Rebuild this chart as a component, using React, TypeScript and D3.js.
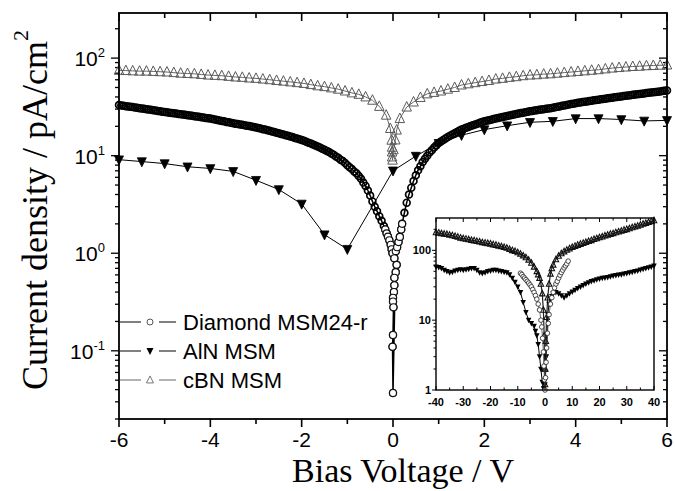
import React from 'react';
import * as d3 from 'd3';

// ---------------- data ----------------
// Main plot: Diamond MSM24-r, regular grid -6.00 .. -0.20 V (step 0.05 V)
const diamondNegJ = [
  33.0, 32.7, 32.5, 32.2, 32.0, 31.7, 31.5, 31.2, 31.0, 30.7,
  30.5, 30.2, 30.0, 29.7, 29.5, 29.2, 29.0, 28.7, 28.5, 28.2,
  28.0, 27.8, 27.6, 27.4, 27.2, 27.0, 26.8, 26.6, 26.4, 26.2,
  26.0, 25.8, 25.6, 25.4, 25.2, 25.0, 24.8, 24.6, 24.4, 24.2,
  24.0, 23.7, 23.5, 23.2, 23.0, 22.7, 22.5, 22.2, 22.0, 21.7,
  21.5, 21.3, 21.1, 20.9, 20.7, 20.5, 20.3, 20.1, 19.9, 19.7,
  19.5, 19.2, 19.0, 18.7, 18.5, 18.2, 18.0, 17.7, 17.5, 17.2,
  17.0, 16.7, 16.5, 16.2, 16.0, 15.7, 15.5, 15.2, 15.0, 14.7,
  14.5, 14.2, 13.9, 13.6, 13.3, 13.0, 12.7, 12.4, 12.1, 11.8,
  11.5, 11.2, 10.9, 10.5, 10.2, 9.8, 9.5, 9.1, 8.8, 8.4,
  8.0, 7.6, 7.3, 6.9, 6.6, 6.2, 5.8, 5.3, 4.9, 4.4,
  3.9, 3.4, 3.0, 2.7, 2.4, 2.15, 1.9,
];
// Diamond near 0 V (fine detail incl. the vertical column)
const diamondZeroV = [-0.17, -0.14, -0.11, -0.08, -0.05, -0.03, -0.01, 0.03, 0.08, 0.06, 0.03, 0.03, 0.02, 0.0, 0.0, 0.01, 0.0, -0.01, 0.0, 0.06, 0.09, 0.12, 0.15, 0.18, 0.2];
const diamondZeroJ = [1.75, 1.6, 1.48, 1.36, 1.22, 1.1, 1.0, 0.89, 0.76, 0.64, 0.56, 0.47, 0.4, 0.35, 0.32, 0.28, 0.145, 0.11, 0.037, 1.05, 1.15, 1.3, 1.47, 1.75, 2.0];
// Diamond, regular grid 0.25 .. 6.00 V (step 0.05 V)
const diamondPosJ = [
  2.6, 3.3, 4.0, 4.7, 5.5, 6.3, 7.1, 7.8, 8.6, 9.3,
  10.0, 10.8, 11.4, 12.1, 12.8, 13.5, 14.0, 14.5, 15.0, 15.5,
  16.0, 16.5, 17.0, 17.5, 18.0, 18.5, 18.9, 19.3, 19.7, 20.1,
  20.5, 20.9, 21.3, 21.7, 22.1, 22.5, 22.8, 23.1, 23.4, 23.7,
  24.0, 24.3, 24.6, 24.9, 25.2, 25.5, 25.8, 26.1, 26.4, 26.7,
  27.0, 27.3, 27.6, 27.9, 28.2, 28.5, 28.7, 29.0, 29.2, 29.5,
  29.7, 30.0, 30.2, 30.5, 30.7, 31.0, 31.3, 31.7, 32.0, 32.4,
  32.7, 33.1, 33.4, 33.8, 34.1, 34.5, 34.8, 35.1, 35.4, 35.7,
  36.0, 36.3, 36.6, 36.9, 37.2, 37.5, 37.8, 38.1, 38.4, 38.7,
  39.0, 39.3, 39.6, 39.9, 40.2, 40.5, 40.8, 41.1, 41.4, 41.7,
  42.0, 42.3, 42.6, 42.9, 43.2, 43.5, 43.8, 44.1, 44.4, 44.7,
  45.0, 45.3, 45.6, 45.9, 46.2, 46.5,
];

// AlN MSM
const alnV = [-6, -5.5, -5, -4.5, -4, -3.5, -3, -2.5, -2, -1.5, -1, 0, 0.5, 1, 1.5, 2, 2.5, 3, 3.5, 4, 4.5, 5, 5.5, 6];
const alnJ = [9.1, 8.7, 8.3, 7.7, 7.4, 6.9, 5.6, 4.5, 3.2, 1.55, 1.1, 7.0, 9.9, 13.4, 16.2, 18.5, 20.3, 22, 22.5, 24, 24, 23.5, 22.7, 23];

// cBN MSM, grid -6.00 .. -0.15 V (step 0.15 V)
const cbnNegJ = [75, 74.5, 74, 73.5, 73.5, 73, 72.5, 72, 71, 70, 69.5, 69, 68, 67, 66.5, 66, 65, 64, 63.5, 62.5, 62, 61, 60, 59, 58, 57, 56, 55, 53.5, 52, 51, 49.5, 48, 46, 44, 42.5, 40, 37, 32, 26];
const cbnZeroV = [-0.06, -0.03, -0.02, -0.02, -0.02, -0.01, 0.01, 0.05, 0.08];
const cbnZeroJ = [19, 14.4, 12.2, 10.9, 9.7, 9.0, 11.5, 14.5, 18.3];
// cBN, grid 0.15 .. 6.00 V (step 0.15 V)
const cbnPosJ = [24, 31.5, 35.5, 39.5, 43, 44.5, 46, 48, 50, 53, 54.5, 56, 57.5, 59, 61, 62, 63.5, 64.5, 66, 67, 67.5, 68.5, 69, 70, 71, 72, 73, 74, 75, 76, 77.5, 79, 80, 81, 82, 82.5, 83.5, 84, 84.5, 85];

// Inset (-40 .. 40 V)
const insetCbnNegJ = [180, 178, 175, 172, 170, 166, 163, 159, 155, 151, 148, 146, 143, 140, 138, 135, 133, 130, 128, 126, 124, 121, 119, 116, 114, 111, 108, 104, 100, 97, 93, 89, 84, 79, 73, 66, 58, 50]; // -40..-3
const insetCbnMidV = [-2.5, -2, -1.5, -1, -0.6, -0.3, -0.1, 0, 0.1, 0.3, 0.6, 1, 1.5, 2, 2.5];
const insetCbnMidJ = [45, 40, 33, 24, 14, 6, 2, 1.2, 2, 5, 11, 21, 33, 46, 55];
const insetCbnPosJ = [62, 74, 83, 90, 96, 101, 106, 111, 115, 119, 123, 127, 131, 135, 139, 144, 148, 153, 157, 162, 166, 171, 175, 180, 185, 190, 195, 200, 206, 212, 218, 224, 231, 238, 245, 252, 260, 268]; // 3..40

const insetDiaV = [-9, -8.5, -8, -7.5, -7, -6.5, -6, -5.5, -5, -4.5, -4, -3.5, -3, -2.5, -2, -1.5, -1.2, -0.9, -0.6, -0.4, -0.2, 0, 0.2, 0.4, 0.6, 0.9, 1.2, 1.5, 2, 2.5, 3, 3.5, 4, 4.5, 5, 5.5, 6, 6.5, 7, 7.5, 8, 8.5];
const insetDiaJ = [47, 45, 42, 40, 38, 36, 34, 32, 30, 27.5, 25, 22.5, 20, 17, 14, 10, 8, 5.5, 3.5, 2.2, 1.4, 1.0, 1.5, 2.5, 4, 6.5, 9, 12, 17, 21, 25, 29, 33, 36, 40, 44, 48, 52, 56, 60, 64, 70];

const insetAlnNegJ = [58, 57, 55, 52, 50, 48, 49, 51, 52, 53, 52, 53, 54, 55, 55, 52, 48, 47, 48, 50, 51, 52, 52, 51, 50, 49, 48, 45, 40, 35, 30, 25, 18, 13, 10, 9, 8.2]; // -40..-4
const insetAlnMidV = [-3.5, -3, -2.5, -2, -1.5, -1, -0.5, 0, 0.5, 1, 1.5, 2, 2.5];
const insetAlnMidJ = [7, 6, 4.5, 3, 2, 1.3, 1.05, 1.2, 3, 12, 17, 20, 22];
const insetAlnPosJ = [24, 25, 24, 22.5, 21, 22.5, 24, 25.5, 27, 28.5, 30, 31.5, 33, 34.5, 36, 37, 38, 39, 40, 40.5, 41, 42, 43, 44, 44.5, 45, 46, 47, 48, 49, 50, 51, 52.5, 54, 55, 56.5, 58, 60]; // 3..40

const xTickLabels = ['-6', '-4', '-2', '0', '2', '4', '6'];
const yTickLabels = ['-1', '0', '1', '2'];
const insetXTicks = ['-40', '-30', '-20', '-10', '0', '10', '20', '30', '40'];
const insetYTicks = ['1', '10', '100'];
const legendNames = ['Diamond MSM24-r', 'AlN MSM', 'cBN MSM'];

// ---------------- helpers ----------------
type P = [number, number];
const grid = (start: number, step: number, vals: number[]): P[] => vals.map((v, i) => [+(start + i * step).toFixed(3), v]);
const zip = (xs: number[], ys: number[]): P[] => xs.map((x, i) => [x, ys[i]]);

const SANS = "'Liberation Sans', Arial, Helvetica, sans-serif";
const SERIF = "'Liberation Serif', 'Times New Roman', Times, serif";

const triUp = (cx: number, cy: number, s: number) =>
  `M${cx},${cy - s * 0.58}L${cx + s / 2},${cy + s * 0.42}L${cx - s / 2},${cy + s * 0.42}Z`;
const triDown = (cx: number, cy: number, s: number) =>
  `M${cx},${cy + s * 0.58}L${cx + s / 2},${cy - s * 0.42}L${cx - s / 2},${cy - s * 0.42}Z`;

function logMinor(domain: [number, number]) {
  const out: { v: number; major: boolean }[] = [];
  for (let e = -3; e <= 3; e++) {
    for (let k = 1; k <= 9; k++) {
      const v = k * Math.pow(10, e);
      if (v >= domain[0] * 0.999 && v <= domain[1] * 1.001) out.push({ v, major: k === 1 });
    }
  }
  return out;
}

export default function App() {
  // main plot
  const L = 119, R = 667, T = 13, B = 419;
  const sx = d3.scaleLinear().domain([-6, 6]).range([L, R]);
  const yDom: [number, number] = [0.02, 290];
  const sy = d3.scaleLog().domain(yDom).range([B, T]);

  const diamond: P[] = [
    ...grid(-6, 0.05, diamondNegJ),
    ...zip(diamondZeroV, diamondZeroJ),
    ...grid(0.25, 0.05, diamondPosJ),
  ];
  const diamondDetail = zip(diamondZeroV, diamondZeroJ);
  const aln = zip(alnV, alnJ);
  const cbn: P[] = [
    ...grid(-6, 0.15, cbnNegJ),
    ...zip(cbnZeroV, cbnZeroJ),
    ...grid(0.15, 0.15, cbnPosJ),
  ];
  const line = d3.line<P>().x(d => sx(d[0])).y(d => sy(d[1]));

  // inset
  const iL = 436, iR = 654, iT = 218, iB = 390;
  const ix = d3.scaleLinear().domain([-40, 40]).range([iL, iR]);
  const iyDom: [number, number] = [1, 290];
  const iy = d3.scaleLog().domain(iyDom).range([iB, iT]);
  const iCbn: P[] = [...grid(-40, 1, insetCbnNegJ), ...zip(insetCbnMidV, insetCbnMidJ), ...grid(3, 1, insetCbnPosJ)];
  const iDia = zip(insetDiaV, insetDiaJ);
  const iAln: P[] = [...grid(-40, 1, insetAlnNegJ), ...zip(insetAlnMidV, insetAlnMidJ), ...grid(3, 1, insetAlnPosJ)];
  const iline = d3.line<P>().x(d => ix(d[0])).y(d => iy(d[1]));

  const xTicks = d3.range(-6, 7, 1);
  const yTicks = logMinor(yDom);
  const ixTicks = d3.range(-40, 41, 5);
  const iyTicks = logMinor(iyDom);

  const legendY = [322, 351, 380];

  return (
    <div style={{ position: 'absolute', left: 0, top: 0 }}>
      <svg width={675} height={491} style={{ display: 'block', background: '#fff' }}>
        <rect x={0} y={0} width={675} height={491} fill="#fff" />

        {/* bottom / top ticks */}
        {xTicks.map(v => {
          const major = v % 2 === 0;
          const len = major ? 8 : 5;
          return (
            <g key={'xt' + v}>
              <line x1={sx(v)} x2={sx(v)} y1={B} y2={B + len} stroke="#000" strokeWidth={1.6} />
              <line x1={sx(v)} x2={sx(v)} y1={T} y2={T + len} stroke="#000" strokeWidth={1.6} />
            </g>
          );
        })}
        {/* left / right ticks */}
        {yTicks.map((t, i) => {
          const len = t.major ? 8 : 4;
          return (
            <g key={'yt' + i}>
              <line x1={L - len} x2={L} y1={sy(t.v)} y2={sy(t.v)} stroke="#000" strokeWidth={1.3} />
              <line x1={R - len} x2={R} y1={sy(t.v)} y2={sy(t.v)} stroke="#000" strokeWidth={1.3} />
            </g>
          );
        })}

        {/* x tick labels */}
        {xTickLabels.map(s => (
          <text key={'xl' + s} x={sx(+s)} y={447} textAnchor="middle" fontFamily={SANS} fontSize={21} fill="#000">{s}</text>
        ))}
        {/* y tick labels */}
        {yTickLabels.map(e => (
          <text key={'yl' + e} x={105} y={sy(Math.pow(10, +e)) + 8} textAnchor="end" fontFamily={SANS} fontSize={21} fill="#000">
            10<tspan fontSize={13} dy={-9}>{e}</tspan>
          </text>
        ))}

        {/* axis titles */}
        <text x={403} y={482} textAnchor="middle" fontFamily={SERIF} fontSize={34} fill="#000">Bias Voltage / V</text>
        <text transform="translate(47,390) rotate(-90)" fontFamily={SERIF} fontSize={36} fill="#000">
          Current density / pA/cm<tspan fontSize={22} dy={-19}>2</tspan>
        </text>

        {/* Diamond */}
        <path d={line(diamond) || ''} fill="none" stroke="#000" strokeWidth={1.5} />
        {diamond.map((d, i) => (
          <circle key={'dm' + i} cx={sx(d[0])} cy={sy(d[1])} r={3.4} fill="none" stroke="#000" strokeWidth={1.7} />
        ))}
        {diamondDetail.map((d, i) => (
          <circle key={'dd' + i} cx={sx(d[0])} cy={sy(d[1])} r={3.5} fill="#fff" stroke="#111" strokeWidth={1.1} />
        ))}

        {/* AlN */}
        <path d={line(aln) || ''} fill="none" stroke="#000" strokeWidth={1} />
        {aln.map((d, i) => (
          <path key={'al' + i} d={triDown(sx(d[0]), sy(d[1]), 9)} fill="#000" stroke="#000" strokeWidth={0.8} />
        ))}

        {/* cBN */}
        <path d={line(cbn) || ''} fill="none" stroke="#666" strokeWidth={1} />
        {cbn.map((d, i) => (
          <path key={'cb' + i} d={triUp(sx(d[0]), sy(d[1]), 9.5)} fill="none" stroke="#5a5a5a" strokeWidth={1} />
        ))}

        {/* frame */}
        <rect x={L} y={T} width={R - L} height={B - T} fill="none" stroke="#000" strokeWidth={1.8} />

        {/* legend */}
        {legendNames.map((name, i) => {
          const cy = legendY[i];
          const col = i === 2 ? '#666' : '#000';
          return (
            <g key={'lg' + i}>
              <line x1={120} x2={141} y1={cy} y2={cy} stroke={col} strokeWidth={1} />
              <line x1={159} x2={176} y1={cy} y2={cy} stroke={col} strokeWidth={1} />
              {i === 0 && <circle cx={150} cy={cy} r={3} fill="#fff" stroke="#555" strokeWidth={1} />}
              {i === 1 && <path d={triDown(150, cy, 7)} fill="#000" />}
              {i === 2 && <path d={triUp(150, cy, 7)} fill="#fff" stroke="#777" strokeWidth={1} />}
              <text x={183} y={cy + 8} fontFamily={SANS} fontSize={22} fill="#000">{name}</text>
            </g>
          );
        })}

        {/* ---------- inset ---------- */}
        <rect x={iL} y={iT} width={iR - iL} height={iB - iT} fill="#fff" />
        <path d={iline(iCbn) || ''} fill="none" stroke="#222" strokeWidth={1.2} />
        {iCbn.map((d, i) => (
          <path key={'icb' + i} d={triUp(ix(d[0]), iy(d[1]), 5.5)} fill="none" stroke="#111" strokeWidth={1.1} />
        ))}
        <path d={iline(iAln) || ''} fill="none" stroke="#000" strokeWidth={1} />
        {iAln.map((d, i) => (
          <path key={'ial' + i} d={triDown(ix(d[0]), iy(d[1]), 5.5)} fill="#000" />
        ))}
        <path d={iline(iDia) || ''} fill="none" stroke="#444" strokeWidth={0.8} />
        {iDia.map((d, i) => (
          <circle key={'idm' + i} cx={ix(d[0])} cy={iy(d[1])} r={2.3} fill="#fff" stroke="#333" strokeWidth={0.9} />
        ))}
        {ixTicks.map(v => {
          const len = v % 10 === 0 ? 4 : 2.5;
          return (
            <g key={'ixt' + v}>
              <line x1={ix(v)} x2={ix(v)} y1={iB} y2={iB - len} stroke="#000" strokeWidth={1} />
              <line x1={ix(v)} x2={ix(v)} y1={iT} y2={iT + len} stroke="#000" strokeWidth={1} />
            </g>
          );
        })}
        {iyTicks.map((t, i) => {
          const len = t.major ? 4 : 2.5;
          return <line key={'iyt' + i} x1={iL - len} x2={iL} y1={iy(t.v)} y2={iy(t.v)} stroke="#000" strokeWidth={1} />;
        })}
        <rect x={iL} y={iT} width={iR - iL} height={iB - iT} fill="none" stroke="#000" strokeWidth={1.4} />
        {insetXTicks.map(s => (
          <text key={'ixl' + s} x={ix(+s)} y={406} textAnchor="middle" fontFamily={SANS} fontSize={11} fontWeight="bold" fill="#000">{s}</text>
        ))}
        {insetYTicks.map(s => (
          <text key={'iyl' + s} x={431} y={iy(+s) + 4} textAnchor="end" fontFamily={SANS} fontSize={11} fontWeight="bold" fill="#000">{s}</text>
        ))}
      </svg>
    </div>
  );
}
